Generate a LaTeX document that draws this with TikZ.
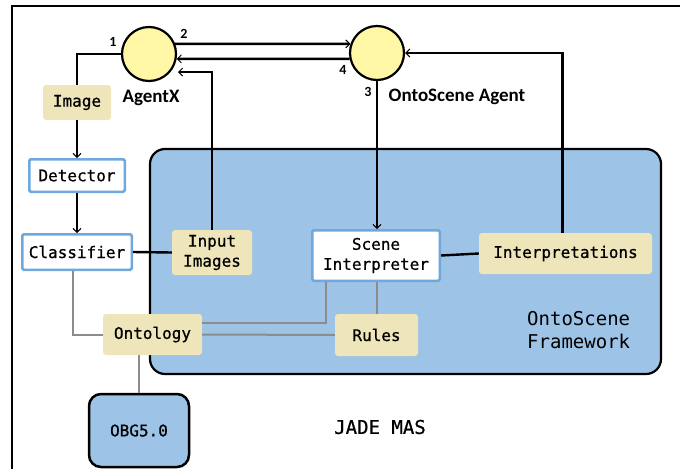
\documentclass[tikz,border=0pt]{standalone}
\usepackage{fontspec}
\usetikzlibrary{arrows.meta,calc}
\newfontfamily\monof[BoldFont=DejaVu Sans Mono, BoldFeatures={FakeBold=0.7}]{DejaVu Sans Mono}
\newfontfamily\calf{Carlito}
\definecolor{beige}{HTML}{EEE5BA}
\definecolor{fwblue}{HTML}{9DC3E6}
\definecolor{bord}{HTML}{6FA8DC}
\definecolor{agentfill}{HTML}{FFF7A6}
\definecolor{gline}{HTML}{8C8C8C}
\begin{document}
\begin{tikzpicture}[x=1pt,y=-1pt,
 lbl/.style={font=\monof\bfseries\fontsize{16}{20}\selectfont, inner sep=0pt, align=center},
 bbox/.style={lbl, fill=beige, rounded corners=3pt},
 wbox/.style={lbl, fill=white, draw=bord, line width=2.5pt, rounded corners=1.5pt},
 agentc/.style={circle, draw=black, line width=2.2pt, fill=agentfill, minimum size=54pt, inner sep=0pt},
 conn/.style={line width=2.4pt, black},
 gconn/.style={line width=2pt, gline},
 tip/.style={-{Straight Barb[length=4pt,width=8pt,line width=1pt]}},
 num/.style={font=\calf\bfseries\fontsize{14}{14}\selectfont, inner sep=0pt},
 alab/.style={font=\calf\bfseries\fontsize{19}{19}\selectfont, inner sep=0pt},
 bigt/.style={font=\monof\fontsize{19}{23}\selectfont, inner sep=0pt}]
\useasboundingbox (0,0) rectangle (680,469);
% outer frame
\draw[line width=1.5pt] (12,469) -- (12,6) -- (680,6);
% framework
\node[draw=black, line width=2.2pt, fill=fwblue, rounded corners=15pt, minimum width=511pt, minimum height=225pt, inner sep=0pt] (fw) at (405.5,261.5) {};
\node[bigt, anchor=west, align=left] (fwt) at (527,330) {OntoScene\\Framework};
% agents
\node[agentc] (ax) at (149,54) {};
\node[agentc] (os) at (377,53) {};
\node[alab] (axl) at (151,98) {AgentX};
\node[alab] (osl) at (457,97) {OntoScene Agent};
\node[num] (n1) at (113,42) {1};
\node[num] (n2) at (184,34) {2};
\node[num] (n4) at (343,70) {4};
\node[num] (n3) at (368,92) {3};
% boxes
\node[bbox, minimum width=68pt, minimum height=35pt] (img) at (77,102.5) {Image};
\node[wbox, minimum width=95.5pt, minimum height=32.5pt] (det) at (77,175.5) {Detector};
\node[wbox, minimum width=109.5pt, minimum height=35.5pt] (cls) at (77,252) {Classifier};
\node[bbox, minimum width=80pt, minimum height=45pt] (inp) at (212,252.5) {Input\\Images};
\node[wbox, minimum width=127.5pt, minimum height=50.5pt] (si) at (376,255.5) {Scene\\Interpreter};
\node[bbox, minimum width=173pt, minimum height=41pt] (intp) at (565.5,253.5) {Interpretations};
\node[bbox, minimum width=99pt, minimum height=41pt] (onto) at (152.5,334.5) {Ontology};
\node[bbox, minimum width=83pt, minimum height=42pt] (rules) at (376.5,335) {Rules};
\node[lbl, draw=black, line width=2.5pt, fill=fwblue, rounded corners=12pt, minimum width=100pt, minimum height=73pt] (obg) at (139,430.5) {OBG5.0};
\node[bigt, font=\monof\bfseries\fontsize{19}{23}\selectfont] (jade) at (380,427) {JADE MAS};
% black connectors
\draw[conn] (ax.west) -| (img.north);
\draw[conn, tip] (img.south) -- (det.north);
\draw[conn, tip] (det.south) -- (cls.north);
\draw[conn] (cls.east) -- (inp.west);
\draw[conn, tip] (inp.north) |- ($(ax.center)+(29,18)$);
\draw[conn, tip] (ax.21) -- (os.161);
\draw[conn, tip] (os.192) -- (ax.-10);
\draw[conn, tip] (os.south) -- (si.north -| os.south);
\draw[conn] (si.east) -- (intp.west);
\draw[conn, tip] ([xshift=-3pt]intp.north) |- (os.east);
% gray connectors
\draw[gconn] ([xshift=-4pt]cls.south) |- (onto.west);
\draw[gconn] ([yshift=11.5pt]onto.east) -| ([xshift=-50pt]si.south);
\draw[gconn] (onto.east) -- (rules.west);
\draw[gconn] (rules.north) -- (rules.north |- si.south);
\draw[gconn] (obg.north) -- (obg.north |- onto.south);
\end{tikzpicture}
\end{document}
